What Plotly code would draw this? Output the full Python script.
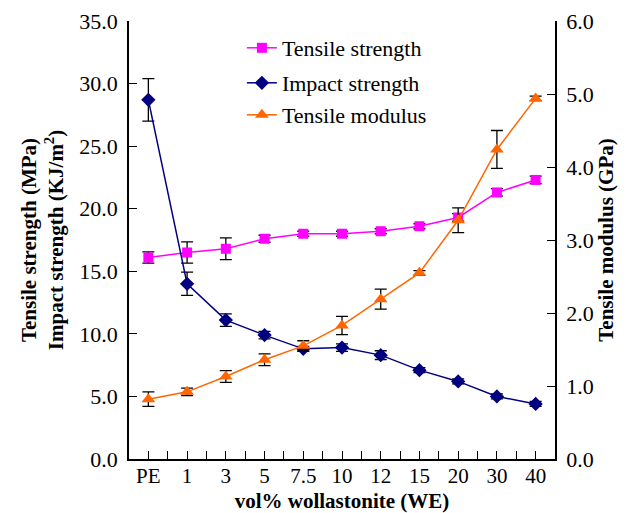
import plotly.graph_objects as go

categories = ["PE", "1", "3", "5", "7.5", "10", "12", "15", "20", "30", "40"]
tensile_strength = [16.1, 16.5, 16.8, 17.6, 18.0, 18.0, 18.2, 18.6, 19.3, 21.3, 22.3]
tensile_strength_err = [0.45, 0.85, 0.87, 0.28, 0.2, 0.2, 0.2, 0.2, 0.3, 0.3, 0.3]
impact_strength = [28.7, 14.0, 11.1, 9.9, 8.8, 8.9, 8.3, 7.1, 6.2, 5.0, 4.4]
impact_strength_err = [1.7, 0.93, 0.5, 0.3, 0.2, 0.3, 0.35, 0.2, 0.2, 0.2, 0.2]
tensile_modulus = [0.82, 0.92, 1.13, 1.36, 1.55, 1.83, 2.19, 2.55, 3.27, 4.24, 4.94]
tensile_modulus_err = [0.1, 0.05, 0.08, 0.08, 0.07, 0.125, 0.137, 0.03, 0.17, 0.26, 0.03]

x = list(range(len(categories)))
FONT = "'Liberation Serif', 'Times New Roman', Times, serif"
TICK = 22

def eb(arr):
    return dict(type="data", array=arr, color="black", thickness=1.3, width=6, visible=True)

fig = go.Figure()
fig.add_trace(go.Scatter(
    x=x, y=tensile_strength, name="Tensile strength", mode="lines+markers",
    line=dict(color="#FF00FF", width=1.5),
    marker=dict(symbol="square", size=10, color="#FF00FF"),
    error_y=eb(tensile_strength_err), legend="legend"))
fig.add_trace(go.Scatter(
    x=x, y=impact_strength, name="Impact strength", mode="lines+markers",
    line=dict(color="#000080", width=1.5),
    marker=dict(symbol="diamond", size=11, color="#000080"),
    error_y=eb(impact_strength_err), legend="legend2"))
fig.add_trace(go.Scatter(
    x=x, y=tensile_modulus, name="Tensile modulus", mode="lines+markers",
    line=dict(color="#FF6600", width=1.5),
    marker=dict(symbol="triangle-up", size=12, color="#FF6600"),
    error_y=eb(tensile_modulus_err), yaxis="y2", legend="legend3"))

leg = dict(font=dict(family=FONT, size=22, color="black"), bgcolor="rgba(0,0,0,0)",
           xanchor="left", yanchor="middle", x=0.265)
fig.update_layout(
    width=628, height=513,
    margin=dict(l=129, r=73, t=21, b=54, autoexpand=False),
    paper_bgcolor="white", plot_bgcolor="white",
    font=dict(family=FONT, size=TICK, color="black"),
    showlegend=True,
    legend=dict(leg, y=(459 - 48) / 438),
    legend2=dict(leg, y=(459 - 83) / 438),
    legend3=dict(leg, y=(459 - 115) / 438),
    xaxis=dict(
        range=[-0.5, 10.5], tickvals=x, ticktext=categories, automargin=False,
        showline=True, linecolor="black", linewidth=1.5, mirror=False,
        ticks="inside", ticklen=8, tickcolor="black", tickwidth=1.3,
        minor=dict(dtick=0.5, tick0=0, ticks="inside", ticklen=8, tickcolor="black", tickwidth=1.3),
        ticklabelstandoff=-3,
        showgrid=False, zeroline=False,
        tickfont=dict(family=FONT, size=21),
        title=dict(text="<b>vol% wollastonite (WE)</b>", font=dict(family=FONT, size=21), standoff=12),
    ),
    yaxis=dict(
        range=[0, 35], dtick=5, tickformat=".1f", automargin=False,
        showline=True, linecolor="black", linewidth=1.5,
        ticks="inside", ticklen=8, tickcolor="black", tickwidth=1.3,
        ticklabelstandoff=5,
        showgrid=False, zeroline=False,
        tickfont=dict(family=FONT, size=TICK),
        title=dict(text="<b>Tensile strength (MPa)<br>Impact strength (KJ/m<sup>2</sup>)</b>",
                   font=dict(family=FONT, size=21), standoff=10),
    ),
    yaxis2=dict(
        range=[0, 6], dtick=1, tickformat=".1f", overlaying="y", side="right", automargin=False,
        showline=True, linecolor="black", linewidth=1.5,
        ticks="inside", ticklen=8, tickcolor="black", tickwidth=1.3,
        ticklabelstandoff=5,
        showgrid=False, zeroline=False,
        tickfont=dict(family=FONT, size=TICK),
        title=dict(text="<b>Tensile modulus (GPa)</b>", font=dict(family=FONT, size=21), standoff=4),
    ),
)
fig.write_html("out.html")
